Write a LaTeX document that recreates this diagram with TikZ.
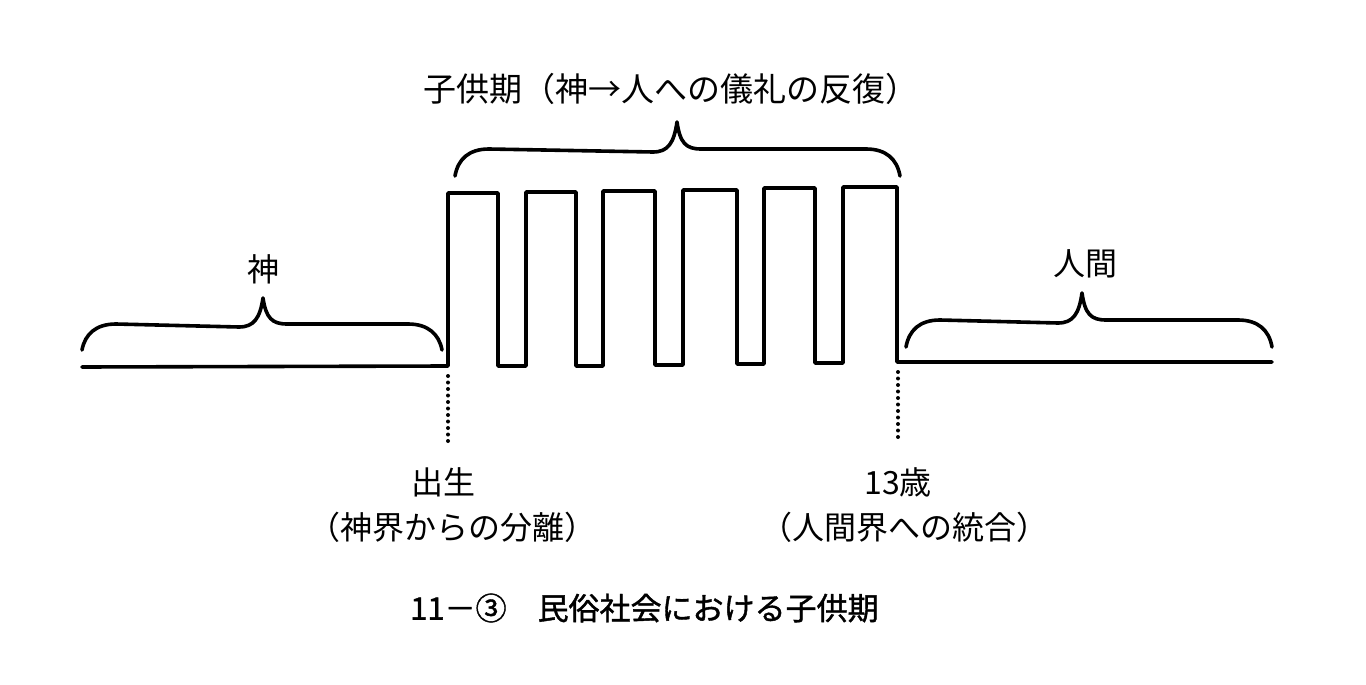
\documentclass[tikz,border=0pt]{standalone}
\usepackage{fontspec}
\newfontfamily\cjk{Noto Sans CJK JP}
\newfontfamily\cjkcap[FakeBold=1.3]{Noto Sans CJK JP}
\tikzset{
  wave/.style={line width=3.6pt, line join=round, line cap=round},
  bracket/.style={line width=3.6pt, line cap=round, line join=round},
  dotline/.style={line width=4pt, line cap=round, dash pattern=on 0pt off 6.5pt},
  lbl/.style={inner sep=0pt, font=\cjk\fontsize{32}{38}\selectfont},
}
\newcommand\mybrace[6]{% x1 x2 xm ybottom ytop ytip
  \draw[bracket] (#1,#4) .. controls ({#1+3},{#5+10}) and ({#1+14},#5) .. ({#1+34},#5)
    -- ({#3-24},{#5+3}) .. controls ({#3-9},{#5+3}) and ({#3-3},{#5-6}) .. (#3,#6)
    .. controls ({#3+3},{#5-6}) and ({#3+9},#5) .. ({#3+24},#5)
    -- ({#2-34},#5) .. controls ({#2-14},#5) and ({#2-3},{#5+10}) .. (#2,#4);}
\begin{document}
\begin{tikzpicture}[x=1pt,y=-1pt]
\useasboundingbox (0,0) rectangle (1366,685);
% baseline and pulses
\draw[wave] (82,367) -- (448,366) -- (448,193) -- (498,193) -- (498,366) -- (526,366)
  -- (526,192) -- (576,192) -- (576,366) -- (603,366) -- (603,191) -- (655,191)
  -- (655,365) -- (683,365) -- (683,190) -- (737,190) -- (737,364) -- (764,364)
  -- (764,188) -- (815,188) -- (815,363) -- (843,363) -- (843,187) -- (897,187)
  -- (897,362) -- (1272,362);
% dotted markers
\coordinate (b1) at (448,376);
\coordinate (b2) at (448,442);
\coordinate (t1) at (898,372);
\coordinate (t2) at (898,440);
\draw[dotline] (b1) -- (b2);
\draw[dotline] (t1) -- (t2);
% braces
\mybrace{82}{442}{263}{350}{324}{298}
\mybrace{455}{900}{677}{176}{149}{122}
\mybrace{906}{1272}{1082}{347}{320}{293}
% labels
\node[lbl] (kami) at (263,269) {神};
\node[lbl] (ningen) at (1085,264) {人間};
\node[lbl,font=\cjk\fontsize{33}{38}\selectfont] (kodomo) at (671,89) {子供期（神→人への儀礼の反復）};
\node[lbl] (birth) at (443,482) {出生};
\node[lbl] (birthsub) at (452,527) {（神界からの分離）};
\node[lbl] (age) at (898,482) {13歳};
\node[lbl] (agesub) at (904,527) {（人間界への統合）};
\node[lbl,anchor=west,font=\cjkcap\fontsize{31}{38}\selectfont] (caption) at (410,608) {11－③　民俗社会における子供期};
\end{tikzpicture}
\end{document}
